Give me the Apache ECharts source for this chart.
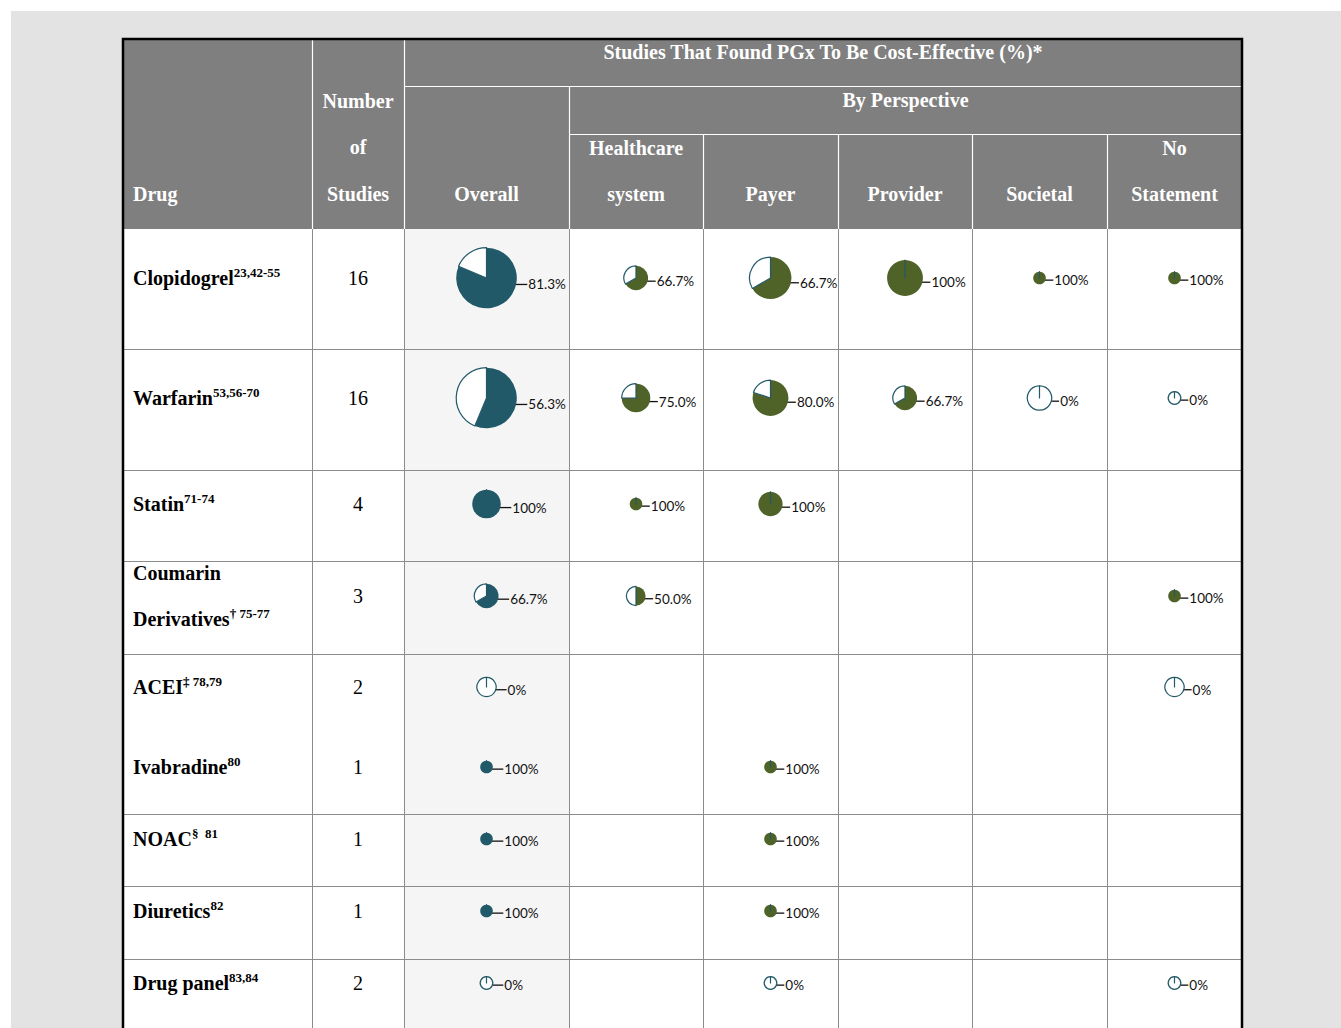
<!DOCTYPE html>
<html>
<head>
<meta charset="utf-8">
<script src="https://cdn.jsdelivr.net/npm/echarts@6/dist/echarts.min.js"></script>
<style>
html,body{margin:0;padding:0;background:#fff;}
#chart{width:1341px;height:1028px;}
</style>
</head>
<body>
<div id="chart"></div>
<script>
// ================= DATA =================
const titleText = 'Studies That Found PGx To Be Cost-Effective (%)*';
const perspectiveText = 'By Perspective';
const drugHeader = 'Drug';
const numberHeader = 'Number\nof\nStudies';
const columns = ['Overall', 'Healthcare\nsystem', 'Payer', 'Provider', 'Societal', 'No\nStatement'];

const drugs = ['Clopidogrel', 'Warfarin', 'Statin', 'Coumarin\nDerivatives', 'ACEI', 'Ivabradine', 'NOAC', 'Diuretics', 'Drug panel'];
const drugRefs = ['23,42-55', '53,56-70', '71-74', '\u2020 75-77', '\u2021 78,79', '80', '\u00a7  81', '82', '83,84'];
const numStudies = [16, 16, 4, 3, 2, 1, 1, 1, 2];

// % of studies that found PGx cost-effective (null = no studies in that cell)
const overallPct     = [81.3, 56.3, 100, 66.7, 0, 100, 100, 100, 0];
const healthcarePct  = [66.7, 75.0, 100, 50.0, null, null, null, null, null];
const payerPct       = [66.7, 80.0, 100, null, null, 100, 100, 100, 0];
const providerPct    = [100, 66.7, null, null, null, null, null, null, null];
const societalPct    = [100, 0, null, null, null, null, null, null, null];
const noStatementPct = [100, 0, null, 100, 0, null, null, null, 0];

// number of studies each pie stands for (pie area), as read from the pie sizes
const overallN     = [16, 16, 4, 3, 2, 1, 1, 1, 1];
const healthcareN  = [3, 4, 1, 2, null, null, null, null, null];
const payerN       = [8, 6, 3, null, null, 1, 1, 1, 1];
const providerN    = [6, 3, null, null, null, null, null, null, null];
const societalN    = [1, 3, null, null, null, null, null, null, null];
const noStatementN = [1, 1, null, 1, 2, null, null, null, 1];

// ================= LAYOUT / STYLE =================
const colEdges = [123, 312, 404, 569, 703, 838, 972, 1107, 1242];
const headerTop = 39, headerBottom = 229, headRow1 = 86, headRow2 = 134;
const rowLines = [349, 470, 561, 654, 814, 886, 959];
const rowCenterY = [278, 398, 504, 596, 687, 767, 839, 911, 983];
const tableBottom = 1100;

const TEAL = '#215968', OLIVE = '#4f6228';
const HEADER_BG = '#7f7f7f', GRID = '#8c8c8c', OVERALL_BG = '#f5f5f5', PAGE_BG = '#e3e3e3';
const SERIF = '"Liberation Serif", "Times New Roman", serif';
const LABEL_FONT = 'Lato, "Noto Sans", sans-serif';

const pctCols = [overallPct, healthcarePct, payerPct, providerPct, societalPct, noStatementPct];
const nCols = [overallN, healthcareN, payerN, providerN, societalN, noStatementN];
const fillColors = [TEAL, OLIVE, OLIVE, OLIVE, OLIVE, OLIVE];

const fmtPct = p => (p === 100 || p === 0) ? p + '%' : p.toFixed(1) + '%';
const radiusOf = n => 8 * Math.sqrt(n) - 1.7;
const colCenter = c => (colEdges[c] + colEdges[c + 1]) / 2;

// ================= GRAPHIC (table frame & text) =================
const g = [];
g.push({type: 'rect', z: 0, shape: {x: 11, y: 11, width: 1330, height: 1017}, style: {fill: PAGE_BG}});
g.push({type: 'rect', z: 1, shape: {x: 123, y: headerTop, width: 1119, height: tableBottom - headerTop}, style: {fill: '#fff'}});
g.push({type: 'rect', z: 1, shape: {x: 123, y: headerTop, width: 1119, height: headerBottom - headerTop}, style: {fill: HEADER_BG}});
g.push({type: 'rect', z: 1, shape: {x: colEdges[2], y: headerBottom, width: colEdges[3] - colEdges[2], height: tableBottom - headerBottom}, style: {fill: OVERALL_BG}});

function line(x1, y1, x2, y2, color, w) {
  g.push({type: 'line', z: 2, shape: {x1, y1, x2, y2}, style: {stroke: color, lineWidth: w || 1}});
}
// header white lines
line(colEdges[1] + 0.5, headerTop, colEdges[1] + 0.5, headerBottom, '#fff', 1.2);
line(colEdges[2] + 0.5, headerTop, colEdges[2] + 0.5, headerBottom, '#fff', 1.2);
line(colEdges[2], headRow1 + 0.5, colEdges[8], headRow1 + 0.5, '#fff', 1.2);
line(colEdges[3] + 0.5, headRow1, colEdges[3] + 0.5, headerBottom, '#fff', 1.2);
line(colEdges[3], headRow2 + 0.5, colEdges[8], headRow2 + 0.5, '#fff', 1.2);
for (let c = 4; c <= 7; c++) line(colEdges[c] + 0.5, headRow2, colEdges[c] + 0.5, headerBottom, '#fff', 1.2);
// body grid
for (let c = 1; c <= 7; c++) line(colEdges[c] + 0.5, headerBottom, colEdges[c] + 0.5, tableBottom, GRID, 1);
rowLines.forEach(y => line(colEdges[0], y + 0.5, colEdges[8], y + 0.5, GRID, 1));

function text(x, y, str, opt) {
  g.push({type: 'text', z: 5, x, y, style: Object.assign({text: str, fill: '#000', fontFamily: SERIF, fontSize: 20}, opt)});
}
const HW = {fill: '#fff', fontWeight: 'bold', fontSize: 20};
text((colEdges[2] + colEdges[8]) / 2, 52, titleText, Object.assign({align: 'center', verticalAlign: 'middle'}, HW));
text((colEdges[3] + colEdges[8]) / 2, 100, perspectiveText, Object.assign({align: 'center', verticalAlign: 'middle'}, HW));
text(colEdges[0] + 10, 194 + 23, drugHeader, Object.assign({align: 'left', verticalAlign: 'bottom', lineHeight: 46}, HW));
text(colCenter(1), 194 + 23, numberHeader, Object.assign({align: 'center', verticalAlign: 'bottom', lineHeight: 46.5}, HW));
columns.forEach((name, c) => {
  text(colCenter(c + 2), 194 + 23, name, Object.assign({align: 'center', verticalAlign: 'bottom', lineHeight: 46}, HW));
});

// drug names with superscript refs
drugs.forEach((d, i) => {
  const parts = d.split('\n');
  const rich = parts.map((p, k) => '{n|' + p + '}' + (k === parts.length - 1 ? '{s|' + drugRefs[i] + '}' : '')).join('\n');
  g.push({type: 'text', z: 5, x: colEdges[0] + 10, y: rowCenterY[i], style: {
    text: rich, align: 'left', verticalAlign: 'middle',
    rich: {
      n: {fontFamily: SERIF, fontSize: 20, fontWeight: 'bold', fill: '#000', color: '#000', lineHeight: 46},
      s: {fontFamily: SERIF, fontSize: 13, fontWeight: 'bold', fill: '#000', color: '#000', padding: [0, 0, 12, 0]}
    }
  }});
  text(colCenter(1), rowCenterY[i], String(numStudies[i]), {align: 'center', verticalAlign: 'middle'});
});

// border on top
g.push({type: 'rect', z: 20, shape: {x: 123, y: headerTop, width: 1119, height: tableBottom - headerTop}, style: {fill: 'none', stroke: '#000', lineWidth: 2.5}});

// ================= PIE SERIES =================
const series = [];
pctCols.forEach((col, c) => {
  col.forEach((pct, i) => {
    if (pct == null) return;
    const cx = colCenter(c + 2), cy = rowCenterY[i];
    const r = radiusOf(nCols[c][i]);
    const gap = c === 0 ? 11.5 : 8.5;
    const lx = cx + r + gap, ly = cy + 1 + 0.18 * r;
    const sx = cx + Math.max(0.5 * r, r - 4);
    const labelName = pct > 0 ? 'yes' : 'no';
    const lbl = name => ({
      show: name === labelName, position: 'outside', formatter: fmtPct(pct),
      color: '#111', fontFamily: LABEL_FONT, fontSize: 13.5
    });
    const ll = name => ({show: name === labelName, length: 4, length2: 4, lineStyle: {color: '#111', width: 1.3}});
    const filled = {name: 'yes', value: pct,
      itemStyle: {color: fillColors[c], borderColor: TEAL, borderWidth: pct === 0 ? 1.2 : 0},
      label: lbl('yes'), labelLine: ll('yes')};
    const empty = {name: 'no', value: 100 - pct,
      itemStyle: {color: '#fff', borderColor: TEAL, borderWidth: 1.2},
      label: lbl('no'), labelLine: ll('no')};
    // same geometry either way; the zero-size slice is drawn last so its edge stays visible
    const zeroFilled = pct === 0;
    series.push({
      type: 'pie', z: 10, silent: true, animation: false, avoidLabelOverlap: false,
      center: [cx, cy], radius: r, startAngle: 90, clockwise: !zeroFilled,
      data: zeroFilled ? [empty, filled] : [filled, empty],
      labelLayout: function () {
        return {x: lx, y: ly, align: 'left', verticalAlign: 'middle', labelLinePoints: [[sx, ly], [lx - 1, ly]]};
      }
    });
  });
});

const chart = echarts.init(document.getElementById('chart'), null, {renderer: 'svg', width: 1341, height: 1028});
chart.setOption({
  backgroundColor: '#fff',
  animation: false,
  graphic: {elements: g},
  series: series
});
</script>
</body>
</html>
